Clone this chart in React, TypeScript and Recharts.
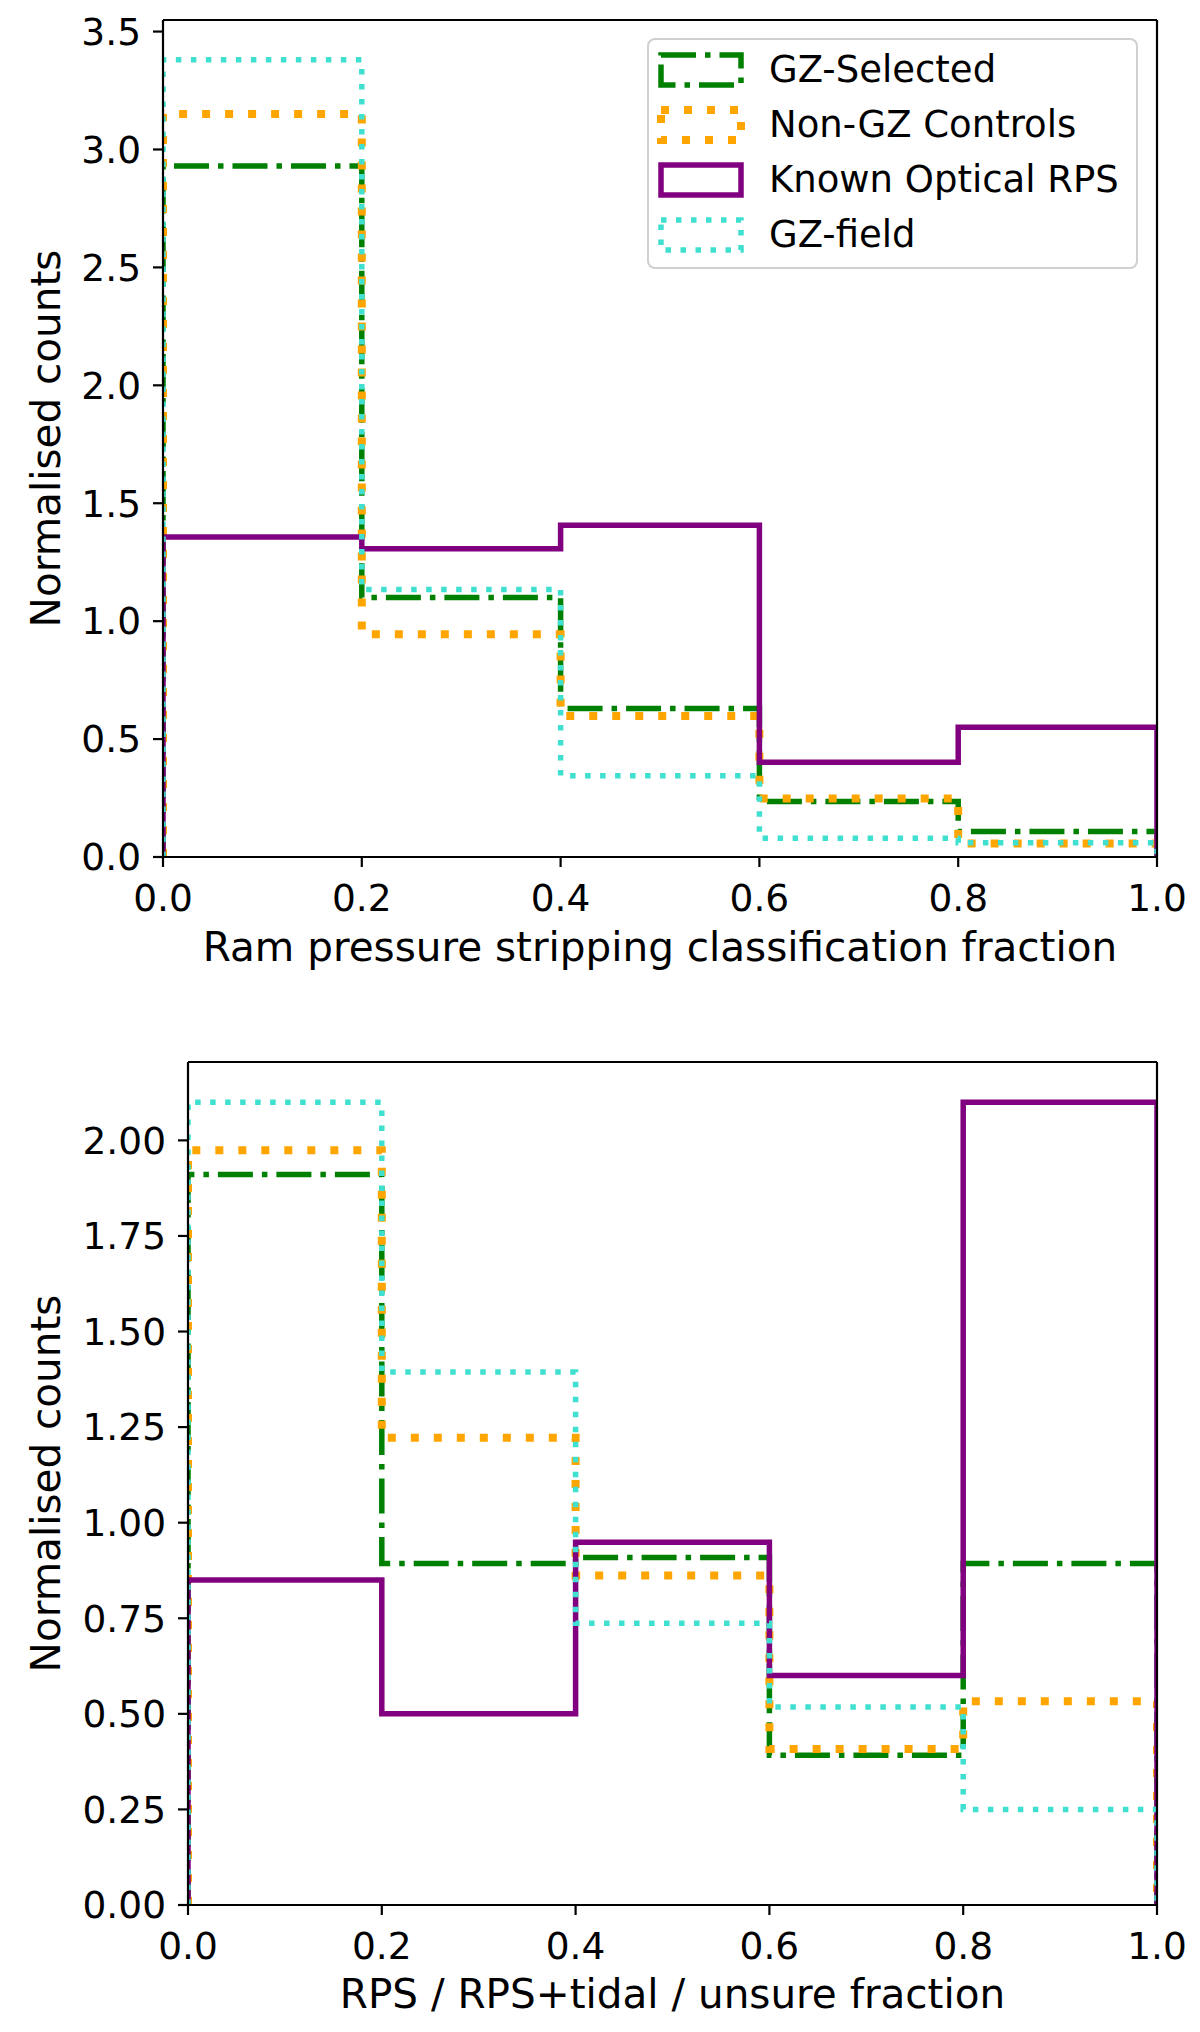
import { LineChart, Line, XAxis, YAxis, Label, Legend, ReferenceLine } from 'recharts'

// bin edges shared by both histograms
const binEdges = [0, 0.2, 0.4, 0.6, 0.8, 1.0]
const xTicks = [0, 0.2, 0.4, 0.6, 0.8, 1.0]

const seriesNames = ['GZ-Selected', 'Non-GZ Controls', 'Known Optical RPS', 'GZ-field']

// top panel: ram pressure stripping classification fraction
const topGzSelected = [2.93, 1.1, 0.63, 0.235, 0.108]
const topNonGz = [3.15, 0.944, 0.598, 0.248, 0.057]
const topKnownRps = [1.357, 1.307, 1.407, 0.402, 0.55]
const topGzField = [3.38, 1.134, 0.345, 0.08, 0.06]
const topYTicks = [0, 0.5, 1.0, 1.5, 2.0, 2.5, 3.0, 3.5]

// bottom panel: RPS / RPS+tidal / unsure fraction
const bottomGzSelected = [1.911, 0.893, 0.909, 0.392, 0.893]
const bottomNonGz = [1.974, 1.222, 0.862, 0.408, 0.533]
const bottomKnownRps = [0.85, 0.5, 0.949, 0.6, 2.1]
const bottomGzField = [2.1, 1.394, 0.737, 0.518, 0.25]
const bottomYTicks = [0, 0.25, 0.5, 0.75, 1.0, 1.25, 1.5, 1.75, 2.0]

const FONT = 'DejaVu Sans'
const TICK_FONT = 37.5
const LABEL_FONT = 40.5

// line styles, same order as seriesNames
const seriesStyles = [
  { key: 's0', color: '#008000', width: 5.5, dash: '35 9 5.5 9' },
  { key: 's1', color: '#FFA500', width: 8, dash: '8 15' },
  { key: 's2', color: '#800080', width: 5.5, dash: undefined },
  { key: 's3', color: '#40E0D0', width: 5.5, dash: '5.5 9.5' },
]

// Build step-histogram outline rows (matplotlib histtype='step')
function stepRows(series: number[][]) {
  const rows: Record<string, number>[] = []
  const row = (x: number, pick: (s: number[]) => number) => {
    const r: Record<string, number> = { x }
    series.forEach((s, k) => {
      r['s' + k] = pick(s)
    })
    rows.push(r)
  }
  const n = binEdges.length - 1
  row(binEdges[0], () => 0)
  for (let i = 0; i < n; i++) row(binEdges[i], (s) => s[i])
  row(binEdges[n], (s) => s[n - 1])
  row(binEdges[n], () => 0)
  return rows
}

function yLabelContent(props: any) {
  const vb = props.viewBox || {}
  const cy = vb.y + vb.height / 2
  return (
    <text
      transform={`translate(60, ${cy}) rotate(-90)`}
      textAnchor="middle"
      fontSize={LABEL_FONT}
      fontFamily={FONT}
      fill="#000"
    >
      Normalised counts
    </text>
  )
}

function makeXLabel(text: string, baselineOffset: number) {
  return (props: any) => {
    const vb = props.viewBox || {}
    return (
      <text
        x={vb.x + vb.width / 2}
        y={vb.y + baselineOffset}
        textAnchor="middle"
        fontSize={LABEL_FONT}
        fontFamily={FONT}
        fill="#000"
      >
        {text}
      </text>
    )
  }
}

function LegendBox() {
  return (
    <div
      style={{
        width: 491,
        height: 231,
        boxSizing: 'border-box',
        border: '2.5px solid #d0d0d0',
        borderRadius: 8,
        background: 'rgba(255,255,255,0.8)',
        position: 'relative',
        fontFamily: FONT,
      }}
    >
      {seriesNames.map((name, i) => {
        const st = seriesStyles[i]
        const cy = 30 + i * 55
        return (
          <div key={name}>
            <svg
              width={90}
              height={40}
              style={{ position: 'absolute', left: 7, top: cy - 20, overflow: 'visible' }}
            >
              <rect
                x={5}
                y={5}
                width={80}
                height={30}
                fill="none"
                stroke={st.color}
                strokeWidth={st.width}
                strokeDasharray={st.dash}
              />
            </svg>
            <span
              style={{
                position: 'absolute',
                left: 120,
                top: cy - 22,
                fontSize: 37,
                lineHeight: '44px',
                whiteSpace: 'nowrap',
                color: '#000',
              }}
            >
              {name}
            </span>
          </div>
        )
      })}
    </div>
  )
}

interface PanelProps {
  series: number[][]
  yTicks: number[]
  yDigits: number
  xLabel: string
  width: number
  height: number
  margin: { top: number; right: number; left: number; bottom: number }
  yAxisWidth: number
  xAxisHeight: number
  xLabelBaseline: number
  showLegend?: boolean
}

function HistPanel(p: PanelProps) {
  const data = stepRows(p.series)
  const yMax = Math.max(...p.series.flat()) * 1.05
  const tickStyle = { fill: '#000', fontSize: TICK_FONT, fontFamily: FONT }
  const axisLine = { stroke: '#000', strokeWidth: 2.2 }
  return (
    <LineChart width={p.width} height={p.height} data={data} margin={p.margin}>
      <XAxis
        dataKey="x"
        type="number"
        domain={[0, 1]}
        ticks={xTicks}
        tickFormatter={(v: number) => v.toFixed(1)}
        tick={tickStyle}
        tickSize={10}
        tickMargin={17}
        tickLine={axisLine}
        axisLine={axisLine}
        height={p.xAxisHeight}
        allowDataOverflow
      >
        <Label content={makeXLabel(p.xLabel, p.xLabelBaseline)} />
      </XAxis>
      <YAxis
        type="number"
        domain={[0, yMax]}
        ticks={p.yTicks}
        tickFormatter={(v: number) => v.toFixed(p.yDigits)}
        tick={tickStyle}
        tickSize={10}
        tickMargin={12}
        tickLine={axisLine}
        axisLine={axisLine}
        width={p.yAxisWidth}
        allowDataOverflow
      >
        <Label content={yLabelContent} />
      </YAxis>
      {seriesStyles.map((st, i) => (
        <Line
          key={st.key}
          dataKey={st.key}
          name={seriesNames[i]}
          type="stepAfter"
          stroke={st.color}
          strokeWidth={st.width}
          strokeDasharray={st.dash}
          dot={false}
          activeDot={false}
          isAnimationActive={false}
        />
      ))}
      {/* top and right spines of the axes box */}
      <ReferenceLine y={yMax} stroke="#000" strokeWidth={2.2} ifOverflow="visible" />
      <ReferenceLine x={1} stroke="#000" strokeWidth={2.2} ifOverflow="visible" />
      {p.showLegend && (
        <Legend
          layout="vertical"
          align="center"
          verticalAlign="middle"
          wrapperStyle={{ left: 647, top: 38, width: 491, height: 231 }}
          content={() => <LegendBox />}
        />
      )}
    </LineChart>
  )
}

export default function App() {
  return (
    <div
      style={{
        position: 'absolute',
        left: 0,
        top: 0,
        width: 1200,
        height: 2032,
        background: '#fff',
        fontFamily: FONT,
      }}
    >
      <HistPanel
        series={[topGzSelected, topNonGz, topKnownRps, topGzField]}
        yTicks={topYTicks}
        yDigits={1}
        xLabel="Ram pressure stripping classification fraction"
        width={1200}
        height={1010}
        margin={{ top: 20, right: 43, left: 0, bottom: 0 }}
        yAxisWidth={163}
        xAxisHeight={153}
        xLabelBaseline={104}
        showLegend
      />
      <HistPanel
        series={[bottomGzSelected, bottomNonGz, bottomKnownRps, bottomGzField]}
        yTicks={bottomYTicks}
        yDigits={2}
        xLabel="RPS / RPS+tidal / unsure fraction"
        width={1200}
        height={1022}
        margin={{ top: 52, right: 43, left: 0, bottom: 0 }}
        yAxisWidth={188}
        xAxisHeight={127}
        xLabelBaseline={103}
      />
    </div>
  )
}
